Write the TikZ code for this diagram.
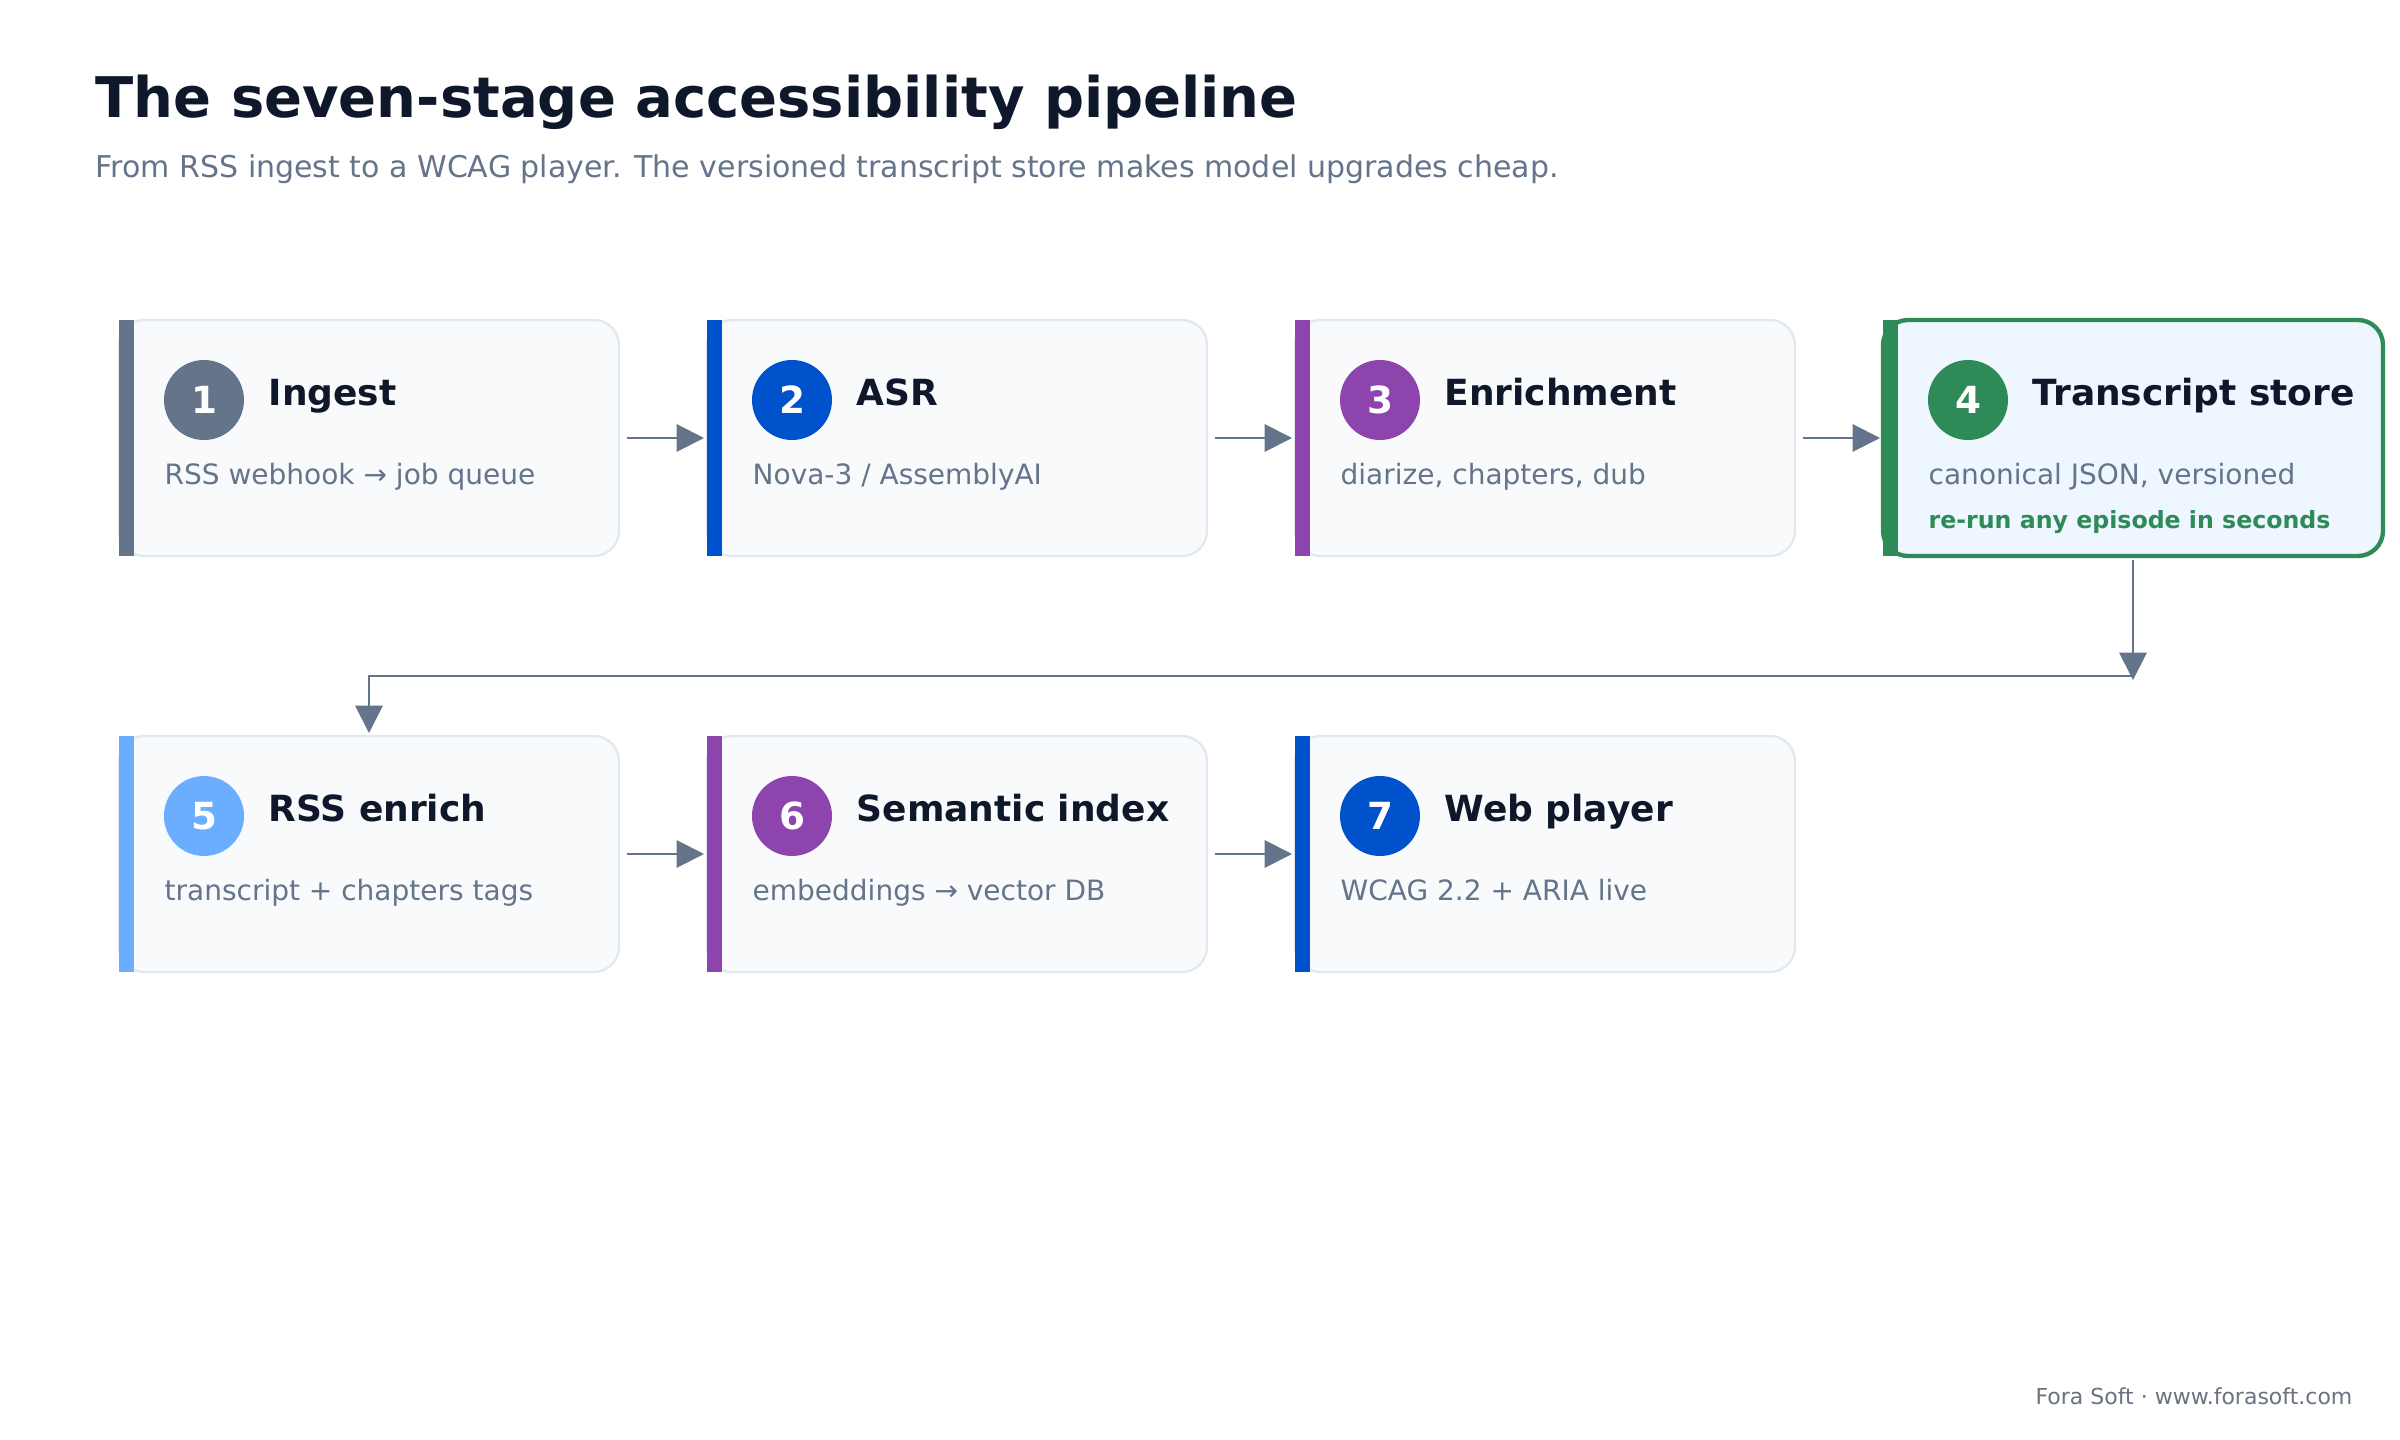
\documentclass[tikz,border=0pt]{standalone}
\usepackage{fontspec}
\setmainfont{DejaVu Sans}
\usetikzlibrary{arrows.meta,calc}
\definecolor{ink}{HTML}{0F172A}
\definecolor{muted}{HTML}{64748B}
\definecolor{slate}{HTML}{64748B}
\definecolor{cblue}{HTML}{0052CC}
\definecolor{cpurple}{HTML}{8E44AD}
\definecolor{cgreen}{HTML}{2E8B57}
\definecolor{clight}{HTML}{6BAEFF}
\definecolor{boxfill}{HTML}{F8FAFC}
\definecolor{boxline}{HTML}{E2E8F0}
\definecolor{hlfill}{HTML}{EEF6FF}
\definecolor{foot}{HTML}{6B7280}
\tikzset{
  stagebox/.style={draw=boxline, line width=0.7pt, fill=boxfill, rounded corners=7.5pt,
    minimum width=150pt, minimum height=70.8pt, anchor=north west, inner sep=0pt, outer sep=0pt},
  hlbox/.style={stagebox, draw=cgreen, line width=1.3pt, fill=hlfill},
  numc/.style={circle, minimum size=24pt, inner sep=0pt, text=white,
    font=\fontsize{11.2}{13}\selectfont\bfseries},
  stitle/.style={anchor=base west, inner sep=0pt, text=ink, font=\fontsize{10.8}{13}\selectfont\bfseries},
  sdesc/.style={anchor=base west, inner sep=0pt, text=muted, font=\fontsize{8.4}{10}\selectfont},
  snote/.style={anchor=base west, inner sep=0pt, text=cgreen, font=\fontsize{7.1}{9}\selectfont\bfseries},
  arr/.style={draw=slate, line width=0.6pt, -{Triangle[length=8.2pt,width=8.2pt]}},
}
\newcommand\mkstage[8]{%
  \node[#8] (#1) at (#2,#3) {};
  \fill[#4] (#1.north west) rectangle ++(15,236);
  \node[numc, fill=#4] (#1n) at ($(#1.north west)+(85,80)$) {#5};
  \node[stitle] (#1t) at ($(#1.north west)+(149,85)$) {#6};
  \node[sdesc] (#1d) at ($(#1.north west)+(45,164)$) {#7};
}
\begin{document}
\begin{tikzpicture}[x=0.3pt,y=-0.3pt]
\useasboundingbox (0,0) rectangle (2400,1440);
\fill[white] (0,0) rectangle (2400,1440);
\node[anchor=base west, inner sep=0pt, text=ink, font=\fontsize{16.8}{20}\selectfont\bfseries] (title) at (95,117) {The seven-stage accessibility pipeline};
\node[anchor=base west, inner sep=0pt, text=muted, font=\fontsize{9}{11}\selectfont] (sub) at (95,177) {From RSS ingest to a WCAG player. The versioned transcript store makes model upgrades cheap.};
\mkstage{s1}{119}{320}{slate}{1}{Ingest}{RSS webhook → job queue}{stagebox}
\mkstage{s2}{707}{320}{cblue}{2}{ASR}{Nova-3 / AssemblyAI}{stagebox}
\mkstage{s3}{1295}{320}{cpurple}{3}{Enrichment}{diarize, chapters, dub}{stagebox}
\mkstage{s4}{1883}{320}{cgreen}{4}{Transcript store}{canonical JSON, versioned}{hlbox}
\node[snote] (s4note) at ($(s4.north west)+(45,208)$) {re-run any episode in seconds};
\mkstage{s5}{119}{736}{clight}{5}{RSS enrich}{transcript + chapters tags}{stagebox}
\mkstage{s6}{707}{736}{cpurple}{6}{Semantic index}{embeddings → vector DB}{stagebox}
\mkstage{s7}{1295}{736}{cblue}{7}{Web player}{WCAG 2.2 + ARIA live}{stagebox}
\draw[arr] ([xshift=2.4pt]s1.east) -- ([xshift=-0.9pt]s2.west);
\draw[arr] ([xshift=2.4pt]s2.east) -- ([xshift=-0.9pt]s3.west);
\draw[arr] ([xshift=2.4pt]s3.east) -- ([xshift=-0.9pt]s4.west |- s3.east);
\draw[arr] ([xshift=2.4pt]s5.east) -- ([xshift=-0.9pt]s6.west);
\draw[arr] ([xshift=2.4pt]s6.east) -- ([xshift=-0.9pt]s7.west);
\coordinate (tip) at (s4.south |- 0,680);
\coordinate (bend) at (s4.south |- 0,676);
\draw[arr] ([yshift=-1.2pt]s4.south) -- (tip);
\draw[arr] (bend) -| ([yshift=0.9pt]s5.north);
\node[anchor=base east, inner sep=0pt, text=foot, font=\fontsize{6.6}{8}\selectfont] (footer) at (2353,1404) {Fora Soft · www.forasoft.com};
\end{tikzpicture}
\end{document}
